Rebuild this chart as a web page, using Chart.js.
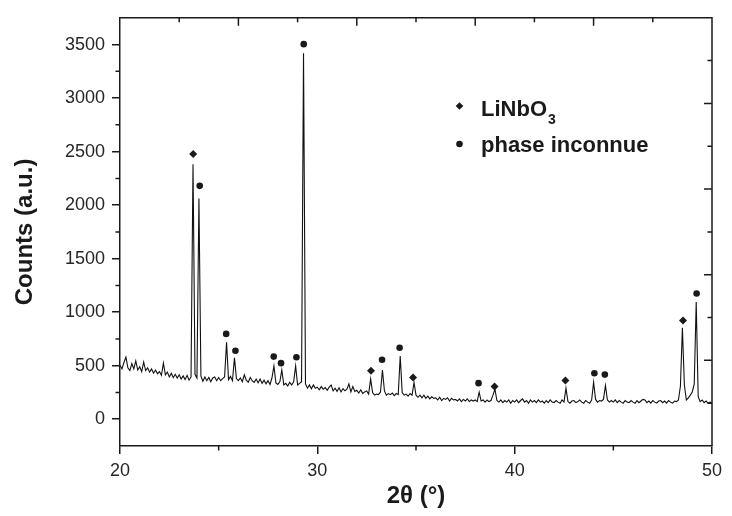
<!DOCTYPE html>
<html><head><meta charset="utf-8">
<script src="https://cdn.jsdelivr.net/npm/chart.js@4.4.1/dist/chart.umd.min.js"></script>
<style>html,body{margin:0;padding:0;background:#fff}#wrap{width:732px;height:516px;position:relative}</style>
</head><body><div id="wrap"><canvas id="c" width="732" height="516"></canvas></div>
<script>
// 2θ sampling positions (degrees)
const twoTheta = [
20.0,20.1,20.2,20.3,20.4,20.5,20.6,20.7,20.8,20.9,
21.0,21.1,21.2,21.3,21.4,21.5,21.6,21.7,21.8,21.9,
22.0,22.1,22.2,22.3,22.4,22.5,22.6,22.7,22.8,22.9,
23.0,23.1,23.2,23.3,23.4,23.5,23.6,23.7,23.8,23.9,
24.0,24.1,24.2,24.3,24.4,24.5,24.6,24.7,24.8,24.9,
25.0,25.1,25.2,25.3,25.4,25.5,25.6,25.7,25.8,25.9,
26.0,26.1,26.2,26.3,26.4,26.5,26.6,26.7,26.8,26.9,
27.0,27.1,27.2,27.3,27.4,27.5,27.6,27.7,27.8,27.9,
28.0,28.1,28.2,28.3,28.4,28.5,28.6,28.7,28.8,28.9,
29.0,29.1,29.2,29.3,29.4,29.5,29.6,29.7,29.8,29.9,
30.0,30.1,30.2,30.3,30.4,30.5,30.6,30.7,30.8,30.9,
31.0,31.1,31.2,31.3,31.4,31.5,31.6,31.7,31.8,31.9,
32.0,32.1,32.2,32.3,32.4,32.5,32.6,32.7,32.8,32.9,
33.0,33.1,33.2,33.3,33.4,33.5,33.6,33.7,33.8,33.9,
34.0,34.1,34.2,34.3,34.4,34.5,34.6,34.7,34.8,34.9,
35.0,35.1,35.2,35.3,35.4,35.5,35.6,35.7,35.8,35.9,
36.0,36.1,36.2,36.3,36.4,36.5,36.6,36.7,36.8,36.9,
37.0,37.1,37.2,37.3,37.4,37.5,37.6,37.7,37.8,37.9,
38.0,38.1,38.2,38.3,38.4,38.5,38.6,38.7,38.8,38.9,
39.0,39.1,39.2,39.3,39.4,39.5,39.6,39.7,39.8,39.9,
40.0,40.1,40.2,40.3,40.4,40.5,40.6,40.7,40.8,40.9,
41.0,41.1,41.2,41.3,41.4,41.5,41.6,41.7,41.8,41.9,
42.0,42.1,42.2,42.3,42.4,42.5,42.6,42.7,42.8,42.9,
43.0,43.1,43.2,43.3,43.4,43.5,43.6,43.7,43.8,43.9,
44.0,44.1,44.2,44.3,44.4,44.5,44.6,44.7,44.8,44.9,
45.0,45.1,45.2,45.3,45.4,45.5,45.6,45.7,45.8,45.9,
46.0,46.1,46.2,46.3,46.4,46.5,46.6,46.7,46.8,46.9,
47.0,47.1,47.2,47.3,47.4,47.5,47.6,47.7,47.8,47.9,
48.0,48.1,48.2,48.3,48.4,48.5,48.6,48.7,48.8,48.9,
49.0,49.1,49.2,49.3,49.4,49.5,49.6,49.7,49.8,49.9,
50.0];

// diffracted intensity (counts)
const counts = [
505,470,530,580,480,455,520,470,545,460,
490,445,535,455,480,440,470,430,460,425,
445,410,525,415,440,395,430,390,420,385,
415,375,405,370,410,365,395,2382,420,385,
2063,405,355,395,360,390,350,385,395,360,
390,360,380,395,720,370,400,360,573,380,
360,385,350,415,365,345,390,360,345,375,
340,375,335,365,330,360,325,385,497,340,
325,350,460,320,335,310,345,320,350,499,
320,335,350,3418,330,290,320,285,320,290,
300,275,305,280,295,270,300,320,265,290,
260,295,255,285,265,280,330,255,305,260,
270,245,275,240,255,265,235,377,250,225,
235,230,255,460,265,225,240,230,245,220,
240,230,591,250,225,235,215,240,225,343,
225,205,225,200,225,195,215,190,210,195,
200,180,205,175,195,185,200,170,195,180,
185,170,190,165,185,170,190,165,180,170,
180,165,254,170,180,160,180,165,175,225,
282,175,160,180,155,175,160,180,150,175,
160,180,155,175,190,160,175,150,180,160,
175,155,180,160,170,150,175,155,180,160,
155,175,160,150,180,160,291,165,150,170,
175,155,165,180,160,150,175,160,150,180,
346,185,160,175,170,185,315,180,160,175,
160,180,155,175,160,150,175,160,155,175,
160,150,175,155,170,185,180,155,170,150,
175,160,150,170,175,155,170,150,175,160,
150,170,165,180,310,855,320,180,200,225,
255,330,1094,210,165,180,155,170,150,160,
150];

// peak markers
const linbo3Angles = [23.71, 32.72, 34.85, 38.98, 42.57, 48.53];
const linbo3Marks  = [2477, 453, 389, 306, 361, 922];
const unknownAngles = [24.04, 25.38, 25.85, 27.79, 28.16, 28.94, 29.31, 33.28, 34.17, 38.17, 44.04, 44.57, 49.22];
const unknownMarks  = [2180, 797, 640, 585, 524, 579, 3504, 555, 668, 337, 430, 417, 1174];

const seriesNames = ['LiNbO3', 'phase inconnue'];
const xTicks = [20, 30, 40, 50];
const xMinorTicks = [25, 35, 45];
const yTicks = [0, 500, 1000, 1500, 2000, 2500, 3000, 3500];
const yMinorTicks = [250, 750, 1250, 1750, 2250, 2750, 3250];
const xTitle = '2θ (°)';
const yTitle = 'Counts (a.u.)';

const INK = '#1a1a1a';
const FONT = "'Liberation Sans', Arial, sans-serif";

const zip = (xs, ys) => xs.map((x, i) => ({x: x, y: ys[i]}));

const framePlugin = {
  id: 'frame',
  afterDraw(chart) {
    const {ctx, chartArea: a, scales} = chart;
    const xs = scales.x, ys = scales.y;
    ctx.save();
    ctx.strokeStyle = INK;
    ctx.lineWidth = 1.5;
    ctx.beginPath();
    // top & right frame
    ctx.moveTo(a.left, a.top); ctx.lineTo(a.right, a.top); ctx.lineTo(a.right, a.bottom);
    // minor ticks bottom (outward)
    xMinorTicks.forEach(v => { const p = xs.getPixelForValue(v); ctx.moveTo(p, a.bottom); ctx.lineTo(p, a.bottom + 4.5); });
    // minor ticks left (outward)
    yMinorTicks.forEach(v => { const p = ys.getPixelForValue(v); ctx.moveTo(a.left, p); ctx.lineTo(a.left - 4.5, p); });
    // top & right inward ticks (tenths of the frame)
    for (let i = 1; i < 10; i++) {
      const len = (i % 2 === 0) ? 8 : 4.5;
      const px = a.left + (a.right - a.left) * i / 10;
      ctx.moveTo(px, a.top); ctx.lineTo(px, a.top + len);
      const py = a.top + (a.bottom - a.top) * i / 10;
      ctx.moveTo(a.right, py); ctx.lineTo(a.right - len, py);
    }
    ctx.stroke();

    // legend
    const items = [
      {ds: chart.data.datasets[0], y: 106},
      {ds: chart.data.datasets[1], y: 144}
    ];
    ctx.fillStyle = INK;
    items.forEach((it, k) => {
      ctx.beginPath();
      if (it.ds.pointStyle === 'rectRot') {
        const r = 3.8, cx = 459.5, cy = it.y;
        ctx.moveTo(cx - r, cy); ctx.lineTo(cx, cy - r); ctx.lineTo(cx + r, cy); ctx.lineTo(cx, cy + r); ctx.closePath();
      } else {
        ctx.arc(459.5, it.y, 3.3, 0, Math.PI * 2);
      }
      ctx.fill();
      const m = /^(.*?)(\d+)$/.exec(it.ds.label);
      const main = m ? m[1] : it.ds.label;
      const sub = m ? m[2] : '';
      const baseline = k === 0 ? 115.7 : 151.7;
      ctx.font = "bold 22px " + FONT;
      ctx.textAlign = 'left';
      ctx.textBaseline = 'alphabetic';
      ctx.fillText(main, 481, baseline);
      if (sub) {
        const w = ctx.measureText(main).width;
        ctx.font = "bold 14px " + FONT;
        ctx.fillText(sub, 481 + w + 1, baseline + 8);
      }
    });
    ctx.restore();
  }
};

new Chart(document.getElementById('c'), {
  type: 'scatter',
  data: {
    datasets: [
      { label: seriesNames[0], data: zip(linbo3Angles, linbo3Marks), pointStyle: 'rectRot', pointRadius: 4,
        backgroundColor: INK, borderColor: INK, borderWidth: 0, showLine: false },
      { label: seriesNames[1], data: zip(unknownAngles, unknownMarks), pointStyle: 'circle', pointRadius: 3.3,
        backgroundColor: INK, borderColor: INK, borderWidth: 0, showLine: false },
      { label: 'XRD', data: zip(twoTheta, counts), showLine: true, pointRadius: 0, borderColor: '#111',
        borderWidth: 1.1, tension: 0, fill: false }
    ]
  },
  options: {
    responsive: false, animation: false, devicePixelRatio: 1,
    layout: { padding: { top: 11, right: 20, left: 0, bottom: 0 } },
    plugins: { legend: { display: false }, tooltip: { enabled: false } },
    scales: {
      x: {
        type: 'linear', min: 20, max: 50,
        afterBuildTicks: s => { s.ticks = xTicks.map(v => ({value: v})); },
        afterFit: s => { s.height = 70; },
        ticks: { font: { family: FONT, size: 18 }, color: '#262626', padding: 6, maxRotation: 0, callback: v => String(v) },
        grid: { drawOnChartArea: false, tickLength: 8, color: INK, lineWidth: 1.5 },
        border: { color: INK, width: 1.5 },
        title: { display: true, text: xTitle, color: INK, font: { family: FONT, size: 24, weight: 'bold' }, padding: { top: 0, bottom: 5 } }
      },
      y: {
        type: 'linear', min: -250, max: 3750,
        afterBuildTicks: s => { s.ticks = yTicks.map(v => ({value: v})); },
        afterFit: s => { s.width = 120; },
        ticks: { font: { family: FONT, size: 18 }, color: '#262626', padding: 7, callback: v => String(v) },
        grid: { drawOnChartArea: false, tickLength: 8, color: INK, lineWidth: 1.5 },
        border: { color: INK, width: 1.5 },
        title: { display: true, text: yTitle, color: INK, font: { family: FONT, size: 24, weight: 'bold' }, padding: { top: 11, bottom: 0 } }
      }
    }
  },
  plugins: [framePlugin]
});
</script>
</body></html>
